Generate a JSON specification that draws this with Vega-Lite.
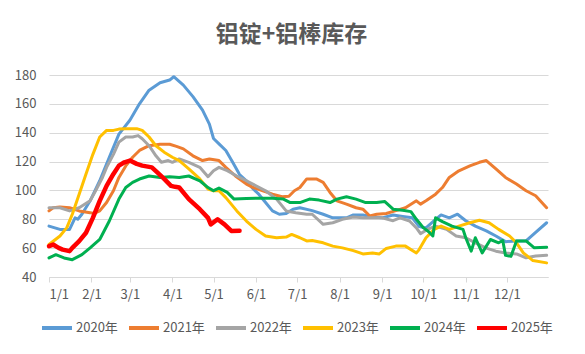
{
  "$schema": "https://vega.github.io/schema/vega-lite/v6.json",
  "autosize": "none",
  "width": 499,
  "height": 202,
  "padding": {"left": 49, "top": 75, "right": 37, "bottom": 77},
  "background": "white",
  "title": {"text": "铝锭+铝棒库存", "font": "Noto Sans CJK SC", "fontSize": 23, "fontWeight": "bold", "color": "#595959", "anchor": "middle", "dx": -7, "offset": 22},
  "config": {"view": {"stroke": null}},
  "data": {"values": [
{"s":"2020年","d":0,"v":75.3},{"s":"2020年","d":8,"v":73},{"s":"2020年","d":15,"v":73},{"s":"2020年","d":19,"v":81},{"s":"2020年","d":21,"v":80},{"s":"2020年","d":24,"v":83.5},{"s":"2020年","d":30,"v":92.8},{"s":"2020年","d":37,"v":106.7},{"s":"2020年","d":44,"v":123},{"s":"2020年","d":51,"v":139},{"s":"2020年","d":59,"v":148.6},{"s":"2020年","d":66,"v":160},{"s":"2020年","d":73,"v":169.5},{"s":"2020年","d":81,"v":174.6},{"s":"2020年","d":88,"v":176.5},{"s":"2020年","d":91,"v":178.8},{"s":"2020年","d":98,"v":173},{"s":"2020年","d":105,"v":165},{"s":"2020年","d":112,"v":155.6},{"s":"2020年","d":117,"v":146},{"s":"2020年","d":120,"v":136},{"s":"2020年","d":124,"v":132.3},{"s":"2020年","d":129,"v":127.7},{"s":"2020年","d":134,"v":119.5},{"s":"2020年","d":139,"v":111},{"s":"2020年","d":144,"v":106.7},{"s":"2020年","d":149,"v":101},{"s":"2020年","d":153,"v":97.4},{"s":"2020年","d":158,"v":91.6},{"s":"2020年","d":163,"v":85.8},{"s":"2020年","d":168,"v":83.5},{"s":"2020年","d":173,"v":84},{"s":"2020年","d":178,"v":87},{"s":"2020年","d":183,"v":88},{"s":"2020年","d":192,"v":86},{"s":"2020年","d":200,"v":83.5},{"s":"2020年","d":207,"v":81},{"s":"2020年","d":212,"v":81},{"s":"2020年","d":217,"v":81},{"s":"2020年","d":222,"v":83},{"s":"2020年","d":229,"v":83},{"s":"2020年","d":236,"v":81.6},{"s":"2020年","d":243,"v":81},{"s":"2020年","d":251,"v":83},{"s":"2020年","d":258,"v":82},{"s":"2020年","d":265,"v":81},{"s":"2020年","d":270,"v":75},{"s":"2020年","d":275,"v":74},{"s":"2020年","d":281,"v":79},{"s":"2020年","d":286,"v":83},{"s":"2020年","d":292,"v":81},{"s":"2020年","d":298,"v":83.5},{"s":"2020年","d":304,"v":79},{"s":"2020年","d":311,"v":75.3},{"s":"2020年","d":319,"v":72},{"s":"2020年","d":326,"v":68.4},{"s":"2020年","d":333,"v":64.5},{"s":"2020年","d":341,"v":65},{"s":"2020年","d":348,"v":65},{"s":"2020年","d":355,"v":71},{"s":"2020年","d":363,"v":77.6},
{"s":"2021年","d":0,"v":85.8},{"s":"2021年","d":3,"v":88},{"s":"2021年","d":8,"v":88.6},{"s":"2021年","d":15,"v":88},{"s":"2021年","d":22,"v":85.8},{"s":"2021年","d":30,"v":84.6},{"s":"2021年","d":33,"v":84},{"s":"2021年","d":37,"v":85.8},{"s":"2021年","d":42,"v":91.6},{"s":"2021年","d":47,"v":99.8},{"s":"2021年","d":51,"v":109},{"s":"2021年","d":56,"v":117},{"s":"2021年","d":61,"v":123},{"s":"2021年","d":66,"v":127.7},{"s":"2021年","d":73,"v":131},{"s":"2021年","d":81,"v":132},{"s":"2021年","d":88,"v":132},{"s":"2021年","d":93,"v":130.5},{"s":"2021年","d":98,"v":128.8},{"s":"2021年","d":105,"v":124},{"s":"2021年","d":112,"v":120.7},{"s":"2021年","d":117,"v":121.8},{"s":"2021年","d":124,"v":120.7},{"s":"2021年","d":129,"v":116},{"s":"2021年","d":136,"v":110},{"s":"2021年","d":144,"v":104.4},{"s":"2021年","d":149,"v":102},{"s":"2021年","d":156,"v":99.8},{"s":"2021年","d":163,"v":97.4},{"s":"2021年","d":170,"v":95.6},{"s":"2021年","d":175,"v":96},{"s":"2021年","d":179,"v":99.8},{"s":"2021年","d":183,"v":102},{"s":"2021年","d":188,"v":108},{"s":"2021年","d":195,"v":108},{"s":"2021年","d":200,"v":105.6},{"s":"2021年","d":205,"v":98.6},{"s":"2021年","d":210,"v":92.8},{"s":"2021年","d":217,"v":90.5},{"s":"2021年","d":224,"v":88},{"s":"2021年","d":229,"v":87},{"s":"2021年","d":234,"v":82.3},{"s":"2021年","d":239,"v":83.5},{"s":"2021年","d":246,"v":84},{"s":"2021年","d":253,"v":86},{"s":"2021年","d":260,"v":88},{"s":"2021年","d":268,"v":92.8},{"s":"2021年","d":271,"v":90.5},{"s":"2021年","d":275,"v":92.8},{"s":"2021年","d":282,"v":97.4},{"s":"2021年","d":287,"v":102},{"s":"2021年","d":292,"v":109},{"s":"2021年","d":299,"v":113.6},{"s":"2021年","d":307,"v":117},{"s":"2021年","d":314,"v":119.5},{"s":"2021年","d":319,"v":120.7},{"s":"2021年","d":326,"v":114.9},{"s":"2021年","d":333,"v":109},{"s":"2021年","d":341,"v":104.4},{"s":"2021年","d":348,"v":99.8},{"s":"2021年","d":355,"v":96.3},{"s":"2021年","d":363,"v":88},
{"s":"2022年","d":0,"v":88},{"s":"2022年","d":8,"v":88},{"s":"2022年","d":15,"v":85.8},{"s":"2022年","d":22,"v":88},{"s":"2022年","d":30,"v":92.8},{"s":"2022年","d":34,"v":99.8},{"s":"2022年","d":39,"v":109},{"s":"2022年","d":42,"v":116},{"s":"2022年","d":47,"v":125},{"s":"2022年","d":51,"v":133.5},{"s":"2022年","d":56,"v":137},{"s":"2022年","d":61,"v":137},{"s":"2022年","d":65,"v":138},{"s":"2022年","d":68,"v":135.8},{"s":"2022年","d":73,"v":131},{"s":"2022年","d":78,"v":124},{"s":"2022年","d":82,"v":119.5},{"s":"2022年","d":87,"v":120.7},{"s":"2022年","d":90,"v":119.5},{"s":"2022年","d":95,"v":121.8},{"s":"2022年","d":102,"v":119.5},{"s":"2022年","d":110,"v":116},{"s":"2022年","d":116,"v":109.5},{"s":"2022年","d":120,"v":113.7},{"s":"2022年","d":124,"v":116},{"s":"2022年","d":130,"v":113.7},{"s":"2022年","d":137,"v":110},{"s":"2022年","d":144,"v":106.7},{"s":"2022年","d":151,"v":103.2},{"s":"2022年","d":158,"v":99.8},{"s":"2022年","d":166,"v":94},{"s":"2022年","d":173,"v":85.8},{"s":"2022年","d":180,"v":84.6},{"s":"2022年","d":188,"v":83.5},{"s":"2022年","d":192,"v":83.5},{"s":"2022年","d":200,"v":76.5},{"s":"2022年","d":207,"v":77.6},{"s":"2022年","d":214,"v":80},{"s":"2022年","d":222,"v":81.6},{"s":"2022年","d":229,"v":81},{"s":"2022年","d":236,"v":81},{"s":"2022年","d":243,"v":81},{"s":"2022年","d":251,"v":79},{"s":"2022年","d":256,"v":81},{"s":"2022年","d":263,"v":78.8},{"s":"2022年","d":268,"v":74},{"s":"2022年","d":271,"v":70},{"s":"2022年","d":276,"v":73},{"s":"2022年","d":282,"v":75.3},{"s":"2022年","d":290,"v":73},{"s":"2022年","d":297,"v":68.4},{"s":"2022年","d":304,"v":67.2},{"s":"2022年","d":311,"v":63.7},{"s":"2022年","d":319,"v":60},{"s":"2022年","d":326,"v":57.9},{"s":"2022年","d":333,"v":56.7},{"s":"2022年","d":341,"v":56},{"s":"2022年","d":348,"v":53.3},{"s":"2022年","d":355,"v":54.5},{"s":"2022年","d":363,"v":55},
{"s":"2023年","d":0,"v":62.5},{"s":"2023年","d":8,"v":68.4},{"s":"2023年","d":13,"v":74.2},{"s":"2023年","d":17,"v":83.5},{"s":"2023年","d":22,"v":97.4},{"s":"2023年","d":27,"v":111.4},{"s":"2023年","d":32,"v":125},{"s":"2023年","d":37,"v":137},{"s":"2023年","d":42,"v":141.6},{"s":"2023年","d":47,"v":141.6},{"s":"2023年","d":51,"v":142.5},{"s":"2023年","d":56,"v":142.8},{"s":"2023年","d":64,"v":142.8},{"s":"2023年","d":68,"v":141.6},{"s":"2023年","d":73,"v":137},{"s":"2023年","d":78,"v":131},{"s":"2023年","d":84,"v":126.5},{"s":"2023年","d":90,"v":123},{"s":"2023年","d":95,"v":120.7},{"s":"2023年","d":102,"v":115},{"s":"2023年","d":110,"v":108},{"s":"2023年","d":116,"v":101},{"s":"2023年","d":120,"v":99.8},{"s":"2023年","d":124,"v":99.8},{"s":"2023年","d":129,"v":95},{"s":"2023年","d":137,"v":85.8},{"s":"2023年","d":144,"v":78.8},{"s":"2023年","d":151,"v":73},{"s":"2023年","d":158,"v":68.4},{"s":"2023年","d":166,"v":67.2},{"s":"2023年","d":173,"v":67.7},{"s":"2023年","d":177,"v":69.5},{"s":"2023年","d":183,"v":67.2},{"s":"2023年","d":188,"v":65},{"s":"2023年","d":192,"v":65.3},{"s":"2023年","d":200,"v":63.7},{"s":"2023年","d":207,"v":61.4},{"s":"2023年","d":214,"v":60.2},{"s":"2023年","d":222,"v":58.3},{"s":"2023年","d":229,"v":56},{"s":"2023年","d":236,"v":56.7},{"s":"2023年","d":241,"v":56},{"s":"2023年","d":246,"v":59.8},{"s":"2023年","d":253,"v":61.4},{"s":"2023年","d":260,"v":61.4},{"s":"2023年","d":268,"v":56.7},{"s":"2023年","d":270,"v":59},{"s":"2023年","d":275,"v":67.2},{"s":"2023年","d":281,"v":73},{"s":"2023年","d":286,"v":75.3},{"s":"2023年","d":292,"v":73},{"s":"2023年","d":299,"v":75.3},{"s":"2023年","d":307,"v":77.6},{"s":"2023年","d":314,"v":79.3},{"s":"2023年","d":321,"v":77.6},{"s":"2023年","d":328,"v":73},{"s":"2023年","d":336,"v":68.4},{"s":"2023年","d":341,"v":63.7},{"s":"2023年","d":346,"v":56.7},{"s":"2023年","d":353,"v":51.4},{"s":"2023年","d":363,"v":49.8},
{"s":"2024年","d":0,"v":53.2},{"s":"2024年","d":5,"v":55.5},{"s":"2024年","d":11,"v":53.2},{"s":"2024年","d":17,"v":52},{"s":"2024年","d":24,"v":55.5},{"s":"2024年","d":30,"v":60.2},{"s":"2024年","d":37,"v":66},{"s":"2024年","d":44,"v":78.8},{"s":"2024年","d":51,"v":94},{"s":"2024年","d":56,"v":102},{"s":"2024年","d":61,"v":105.6},{"s":"2024年","d":66,"v":107.9},{"s":"2024年","d":73,"v":110},{"s":"2024年","d":81,"v":109},{"s":"2024年","d":88,"v":109.5},{"s":"2024年","d":95,"v":109},{"s":"2024年","d":102,"v":110},{"s":"2024年","d":110,"v":106.7},{"s":"2024年","d":116,"v":102},{"s":"2024年","d":120,"v":99.8},{"s":"2024年","d":124,"v":101.6},{"s":"2024年","d":130,"v":98.6},{"s":"2024年","d":135,"v":94},{"s":"2024年","d":144,"v":94.4},{"s":"2024年","d":154,"v":94.6},{"s":"2024年","d":163,"v":94.6},{"s":"2024年","d":171,"v":94},{"s":"2024年","d":176,"v":91.6},{"s":"2024年","d":183,"v":91.6},{"s":"2024年","d":190,"v":94},{"s":"2024年","d":197,"v":93.3},{"s":"2024年","d":205,"v":91.6},{"s":"2024年","d":210,"v":94},{"s":"2024年","d":217,"v":95.6},{"s":"2024年","d":224,"v":94},{"s":"2024年","d":231,"v":91.6},{"s":"2024年","d":239,"v":91.6},{"s":"2024年","d":245,"v":92.3},{"s":"2024年","d":251,"v":87},{"s":"2024年","d":258,"v":86.3},{"s":"2024年","d":264,"v":85.3},{"s":"2024年","d":268,"v":80},{"s":"2024年","d":273,"v":74.2},{"s":"2024年","d":277,"v":71.4},{"s":"2024年","d":280,"v":68.4},{"s":"2024年","d":282,"v":81},{"s":"2024年","d":287,"v":78.4},{"s":"2024年","d":294,"v":75.3},{"s":"2024年","d":302,"v":73},{"s":"2024年","d":304,"v":67.2},{"s":"2024年","d":308,"v":57.9},{"s":"2024年","d":311,"v":67.2},{"s":"2024年","d":316,"v":56.7},{"s":"2024年","d":322,"v":66},{"s":"2024年","d":328,"v":63.7},{"s":"2024年","d":331,"v":65.3},{"s":"2024年","d":333,"v":55},{"s":"2024年","d":337,"v":54.3},{"s":"2024年","d":341,"v":65},{"s":"2024年","d":348,"v":65},{"s":"2024年","d":354,"v":60.2},{"s":"2024年","d":363,"v":60.7},
{"s":"2025年","d":0,"v":61.4},{"s":"2025年","d":3,"v":62.5},{"s":"2025年","d":7,"v":60.2},{"s":"2025年","d":10,"v":59},{"s":"2025年","d":15,"v":57.9},{"s":"2025年","d":17,"v":60.2},{"s":"2025年","d":22,"v":64.9},{"s":"2025年","d":27,"v":70.7},{"s":"2025年","d":32,"v":81},{"s":"2025年","d":37,"v":92.8},{"s":"2025年","d":42,"v":103.2},{"s":"2025年","d":47,"v":111.4},{"s":"2025年","d":51,"v":117.2},{"s":"2025年","d":55,"v":119.5},{"s":"2025年","d":59,"v":120.7},{"s":"2025年","d":64,"v":118.4},{"s":"2025年","d":68,"v":117.2},{"s":"2025年","d":75,"v":116},{"s":"2025年","d":79,"v":112.5},{"s":"2025年","d":84,"v":108},{"s":"2025年","d":89,"v":103.2},{"s":"2025年","d":92,"v":102.5},{"s":"2025年","d":95,"v":102},{"s":"2025年","d":102,"v":94},{"s":"2025年","d":110,"v":87},{"s":"2025年","d":116,"v":81},{"s":"2025年","d":118,"v":76.5},{"s":"2025年","d":123,"v":80},{"s":"2025年","d":128,"v":76.5},{"s":"2025年","d":133,"v":71.9},{"s":"2025年","d":139,"v":72}
  ]},
  "mark": {"type": "line", "strokeJoin": "round", "strokeCap": "round"},
  "encoding": {
    "x": {"field": "d", "type": "quantitative", "scale": {"domain": [0, 364], "nice": false, "zero": false},
      "axis": {"title": null, "values": [0,31,59,90,120,151,181,212,243,273,304,334], "labelExpr": "timeFormat(datetime(2021,0,1+datum.value),'%-m/%-d')", "grid": false, "domainColor": "#d9d9d9", "tickColor": "#d9d9d9", "tickSize": 5, "labelPadding": 6, "labelColor": "#595959", "labelFontSize": 13, "labelFont": "Noto Sans CJK SC", "labelFontWeight": "normal"}},
    "y": {"field": "v", "type": "quantitative", "scale": {"domain": [40, 180], "nice": false, "zero": false},
      "axis": {"title": null, "values": [40,60,80,100,120,140,160,180], "grid": true, "gridColor": "#d9d9d9", "domain": false, "ticks": false, "labelPadding": 13, "labelColor": "#595959", "labelFontSize": 13, "labelFont": "Noto Sans CJK SC"}},
    "color": {"field": "s", "type": "nominal",
      "scale": {"domain": ["2020年","2021年","2022年","2023年","2024年","2025年"], "range": ["#5B9BD5","#ED7D31","#A5A5A5","#FFC000","#00B050","#FF0000"]},
      "legend": {"title": null, "orient": "none", "legendX": -9, "legendY": 236, "direction": "horizontal", "symbolType": "stroke", "symbolSize": 900, "symbolStrokeWidth": 4, "labelFontSize": 13, "labelFont": "Noto Sans CJK SC", "labelColor": "#595959", "labelOffset": 2, "columnPadding": 3}},
    "strokeWidth": {"condition": {"test": "datum.s === '2025年'", "value": 4.5}, "value": 3}
  }
}
